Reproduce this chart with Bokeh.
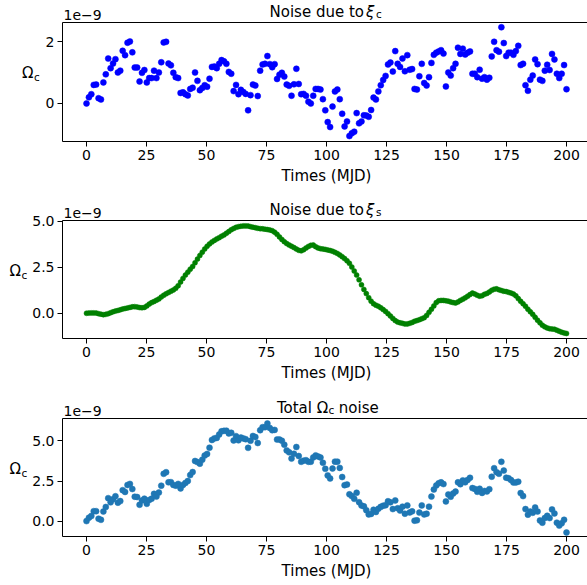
import numpy as np
from bokeh.plotting import figure
from bokeh.layouts import column
from bokeh.models import Label, FixedTicker, NumeralTickFormatter, Range1d, LinearAxis
from bokeh.embed import file_html
from bokeh.resources import INLINE

# ---------------- data (units of 1e-9) ----------------
times = np.linspace(0, 200, 200)

noise_xi_c = [
    0.00, 0.20, 0.30, 0.60, 0.61, 0.17, 0.13, 0.68, 0.94, 1.45,
    1.14, 1.29, 1.43, 1.00, 1.06, 1.70, 1.56, 1.96, 2.00, 1.65,
    1.16, 1.16, 0.71, 0.99, 1.08, 0.68, 0.82, 0.82, 1.06, 0.82,
    1.00, 1.33, 1.97, 1.99, 1.29, 1.23, 0.99, 0.85, 0.82, 0.34,
    0.36, 0.30, 0.26, 0.47, 0.51, 1.00, 0.73, 0.43, 0.50, 0.59,
    0.54, 0.80, 1.18, 1.19, 1.14, 1.28, 1.40, 1.36, 1.28, 1.02,
    0.96, 0.40, 0.60, 0.30, 0.44, 0.37, 0.31, -0.22, 0.27, 0.61,
    0.58, 0.24, 1.06, 1.26, 1.28, 1.53, 1.27, 1.17, 1.27, 0.79,
    0.93, 0.99, 0.87, 0.61, 0.57, 0.25, 0.62, 1.12, 0.63, 0.30,
    0.31, 0.25, 0.06, 0.00, 0.25, 0.47, 0.47, 0.45, 0.14, -0.22,
    -0.60, -0.76, -0.10, 0.39, 0.45, 0.14, -0.33, -0.74, -0.58, -1.05,
    -0.96, -0.91, -0.31, -0.64, -0.58, -0.38, -0.39, -0.43, -0.21, 0.19,
    0.13, 0.39, 0.59, 0.76, 0.89, 1.26, 1.32, 1.03, 1.69, 1.28,
    1.18, 1.45, 1.04, 1.56, 1.09, 1.11, 0.47, 0.45, 0.88, 1.28,
    0.66, 0.58, 0.85, 1.31, 1.57, 1.64, 1.68, 1.72, 1.61, 0.55,
    1.00, 0.90, 1.14, 1.28, 1.80, 1.60, 1.77, 1.58, 1.64, 1.68,
    0.96, 0.96, 0.85, 1.09, 0.80, 0.85, 0.77, 0.83, 1.52, 1.99,
    1.72, 1.67, 2.46, 1.95, 1.53, 1.64, 1.64, 1.57, 1.69, 1.86,
    1.24, 1.28, 0.59, 0.41, 0.77, 0.90, 1.42, 1.27, 0.77, 0.73,
    1.06, 1.25, 1.08, 1.60, 1.42, 0.96, 0.82, 0.96, 1.24, 0.46,
]

noise_xi_s = [
    0.00, 0.01, 0.02, 0.02, 0.01, -0.02, -0.05, -0.08, -0.06, -0.02,
    0.03, 0.08, 0.12, 0.15, 0.19, 0.23, 0.26, 0.29, 0.32, 0.35,
    0.36, 0.34, 0.31, 0.30, 0.32, 0.40, 0.50, 0.58, 0.64, 0.71,
    0.78, 0.88, 0.98, 1.06, 1.13, 1.20, 1.27, 1.36, 1.50, 1.70,
    1.90, 2.08, 2.24, 2.40, 2.55, 2.75, 2.95, 3.15, 3.33, 3.50,
    3.65, 3.78, 3.88, 3.97, 4.05, 4.12, 4.20, 4.27, 4.36, 4.45,
    4.55, 4.62, 4.68, 4.72, 4.74, 4.76, 4.76, 4.75, 4.72, 4.69,
    4.66, 4.63, 4.61, 4.60, 4.58, 4.56, 4.54, 4.50, 4.42, 4.30,
    4.16, 4.02, 3.90, 3.80, 3.72, 3.65, 3.58, 3.50, 3.43, 3.40,
    3.46, 3.55, 3.64, 3.70, 3.72, 3.63, 3.56, 3.52, 3.50, 3.48,
    3.45, 3.42, 3.38, 3.32, 3.26, 3.18, 3.08, 2.98, 2.86, 2.72,
    2.52, 2.30, 2.08, 1.82, 1.55, 1.30, 1.07, 0.85, 0.66, 0.52,
    0.44, 0.38, 0.30, 0.20, 0.10, -0.02, -0.15, -0.28, -0.40, -0.48,
    -0.52, -0.55, -0.58, -0.58, -0.55, -0.50, -0.44, -0.40, -0.35, -0.30,
    -0.24, -0.12, 0.05, 0.22, 0.40, 0.58, 0.68, 0.70, 0.70, 0.68,
    0.66, 0.62, 0.58, 0.56, 0.62, 0.70, 0.77, 0.84, 0.93, 1.02,
    1.10, 1.05, 0.98, 0.93, 0.96, 1.03, 1.08, 1.16, 1.25, 1.31,
    1.33, 1.28, 1.24, 1.20, 1.18, 1.14, 1.10, 1.05, 0.95, 0.80,
    0.65, 0.52, 0.38, 0.22, 0.08, -0.06, -0.22, -0.38, -0.52, -0.65,
    -0.74, -0.80, -0.84, -0.86, -0.87, -0.92, -0.98, -1.03, -1.07, -1.10,
]

noise_total = [
    0.00, 0.21, 0.32, 0.62, 0.62, 0.15, 0.08, 0.60, 0.88, 1.43,
    1.17, 1.37, 1.55, 1.15, 1.25, 1.93, 1.82, 2.25, 2.32, 2.00,
    1.52, 1.50, 1.02, 1.29, 1.40, 1.08, 1.32, 1.40, 1.70, 1.53,
    1.78, 2.21, 2.95, 3.05, 2.42, 2.43, 2.26, 2.21, 2.32, 2.04,
    2.26, 2.38, 2.50, 2.87, 3.06, 3.75, 3.68, 3.58, 3.83, 4.09,
    4.19, 4.58, 5.06, 5.16, 5.19, 5.40, 5.60, 5.63, 5.64, 5.47,
    5.51, 5.03, 5.30, 5.04, 5.21, 5.16, 5.11, 4.57, 5.01, 5.31,
    5.24, 4.87, 5.67, 5.86, 5.86, 6.09, 5.81, 5.67, 5.69, 5.09,
    5.09, 5.01, 4.77, 4.41, 4.29, 3.90, 4.20, 4.62, 4.06, 3.70,
    3.77, 3.80, 3.70, 3.70, 3.97, 4.10, 4.03, 3.97, 3.64, 3.26,
    2.85, 2.66, 3.28, 3.71, 3.71, 3.32, 2.75, 2.24, 2.28, 1.67,
    1.56, 1.39, 1.77, 1.18, 0.97, 0.92, 0.68, 0.42, 0.45, 0.71,
    0.57, 0.77, 0.89, 0.96, 0.99, 1.24, 1.17, 0.75, 1.29, 0.80,
    0.66, 0.90, 0.46, 0.98, 0.54, 0.61, 0.03, 0.05, 0.53, 0.98,
    0.42, 0.46, 0.90, 1.53, 1.97, 2.22, 2.36, 2.42, 2.31, 1.23,
    1.66, 1.52, 1.72, 1.84, 2.42, 2.30, 2.54, 2.42, 2.57, 2.70,
    2.06, 2.01, 1.83, 2.02, 1.76, 1.88, 1.85, 1.99, 2.77, 3.30,
    3.05, 2.95, 3.70, 3.15, 2.71, 2.67, 2.56, 2.41, 2.41, 2.46,
    1.75, 1.56, 0.75, 0.40, 0.60, 0.52, 0.85, 0.60, 0.04, -0.10,
    0.19, 0.33, 0.19, 0.73, 0.48, -0.10, -0.28, -0.14, 0.08, -0.71,
]

x_ticks = [0, 25, 50, 75, 100, 125, 150, 175, 200]
y_ticks_1 = [0, 2]
y_ticks_2 = [0, 2.5, 5.0]
y_ticks_3 = [0, 2.5, 5.0]
x_label = "Times (MJD)"
offset_text = "1e\u22129"

FONT = "DejaVu Sans"
W = 587
X_LO, X_HI = -10, 210          # axes box in data units
BOX_LEFT = 62                  # px
PX_PER_X = 2.4
X0 = X_LO - BOX_LEFT / PX_PER_X
X1 = X_LO + (W - BOX_LEFT) / PX_PER_X
UP = 4  # vertical correction for labels


def lab(p, x, y, text, size, align="left", style="normal"):
    p.add_layout(Label(x=x, y=y + UP, x_units="screen", y_units="screen", text=text,
                       text_font=FONT, text_font_size=f"{size}px", text_color="black",
                       text_align=align, text_baseline="alphabetic",
                       text_font_style=style))


def style_axis(ax):
    ax.major_tick_out = 5
    ax.major_tick_in = 0
    ax.minor_tick_out = 0
    ax.minor_tick_in = 0
    ax.major_tick_line_color = "black"
    ax.major_tick_line_width = 1
    ax.axis_line_color = "black"
    ax.axis_line_width = 1
    ax.major_label_text_font = FONT
    ax.major_label_text_font_size = "14px"
    ax.major_label_text_color = "black"
    ax.major_label_standoff = 3


def make(H, top_px, bot_px, ylo, yhi, yticks, yfmt, y, color, size):
    scale = (bot_px - top_px) / (yhi - ylo)
    y_end = yhi + top_px / scale
    y_start = ylo - (H - bot_px) / scale
    p = figure(width=W, height=H, x_range=Range1d(X0, X1), y_range=Range1d(y_start, y_end),
               x_axis_type=None, y_axis_type=None,
               output_backend="svg", toolbar_location=None, min_border=0)
    p.outline_line_color = None
    p.background_fill_color = "white"
    p.border_fill_color = "white"
    p.scatter(times, y, size=size, fill_color=color, line_color=color, line_width=0.5)

    xax = LinearAxis(fixed_location=ylo, bounds=(X_LO, X_HI),
                     ticker=FixedTicker(ticks=x_ticks),
                     formatter=NumeralTickFormatter(format="0"))
    style_axis(xax)
    p.add_layout(xax, "below")

    yax = LinearAxis(fixed_location=X_LO, bounds=(ylo, yhi),
                     ticker=FixedTicker(ticks=yticks),
                     formatter=NumeralTickFormatter(format=yfmt))
    style_axis(yax)
    p.add_layout(yax, "left")

    top = LinearAxis(fixed_location=yhi, bounds=(X_LO, X_HI),
                     ticker=FixedTicker(ticks=[]))
    style_axis(top)
    top.major_tick_out = 0
    p.add_layout(top, "above")

    # x axis label
    lab(p, 326, H - (bot_px + 38.3), x_label, 15, align="center")
    return p


# ---- subplot 1 ----
H1 = 197
p1 = make(H1, 22, 141, -1.226, 2.613, y_ticks_1, "0", noise_xi_c, "#0000ff", 6)
lab(p1, 63, H1 - 18.3, offset_text, 14)
lab(p1, 363.5, H1 - 15, "Noise due to", 15, align="right")
lab(p1, 365.5, H1 - 15, "\u03be", 15, style="italic")
lab(p1, 375.5, H1 - 17.5, "c", 10.5)
lab(p1, 33, H1 - 76.7, "\u03a9", 15, align="right")
lab(p1, 33.5, H1 - 80, "c", 10.5)

# ---- subplot 2 ----
H2 = 198
p2 = make(H2, 23, 141, -1.375, 5.054, y_ticks_2, "0.0", noise_xi_s, "#008000", 5)
lab(p2, 63, H2 - 19.3, offset_text, 14)
lab(p2, 363.5, H2 - 16, "Noise due to", 15, align="right")
lab(p2, 365.5, H2 - 16, "\u03be", 15, style="italic")
lab(p2, 375.5, H2 - 18.5, "s", 10.5)
lab(p2, 20.5, H2 - 77.7, "\u03a9", 15, align="right")
lab(p2, 21, H2 - 81, "c", 10.5)

# ---- subplot 3 ----
H3 = 190
p3 = make(H3, 23, 141, -0.96, 6.40, y_ticks_3, "0.0", noise_total, "#1f77b4", 6)
lab(p3, 63, H3 - 19.3, offset_text, 14)
lab(p3, 327.7, H3 - 16, "Total \u03a9", 15, align="right")
lab(p3, 327.9, H3 - 18.5, "c", 10.5)
lab(p3, 338.3, H3 - 16, "noise", 15)
lab(p3, 20.5, H3 - 77.7, "\u03a9", 15, align="right")
lab(p3, 21, H3 - 81, "c", 10.5)

layout = column(p1, p2, p3, spacing=0)
open("out.html", "w").write(file_html(layout, INLINE))
